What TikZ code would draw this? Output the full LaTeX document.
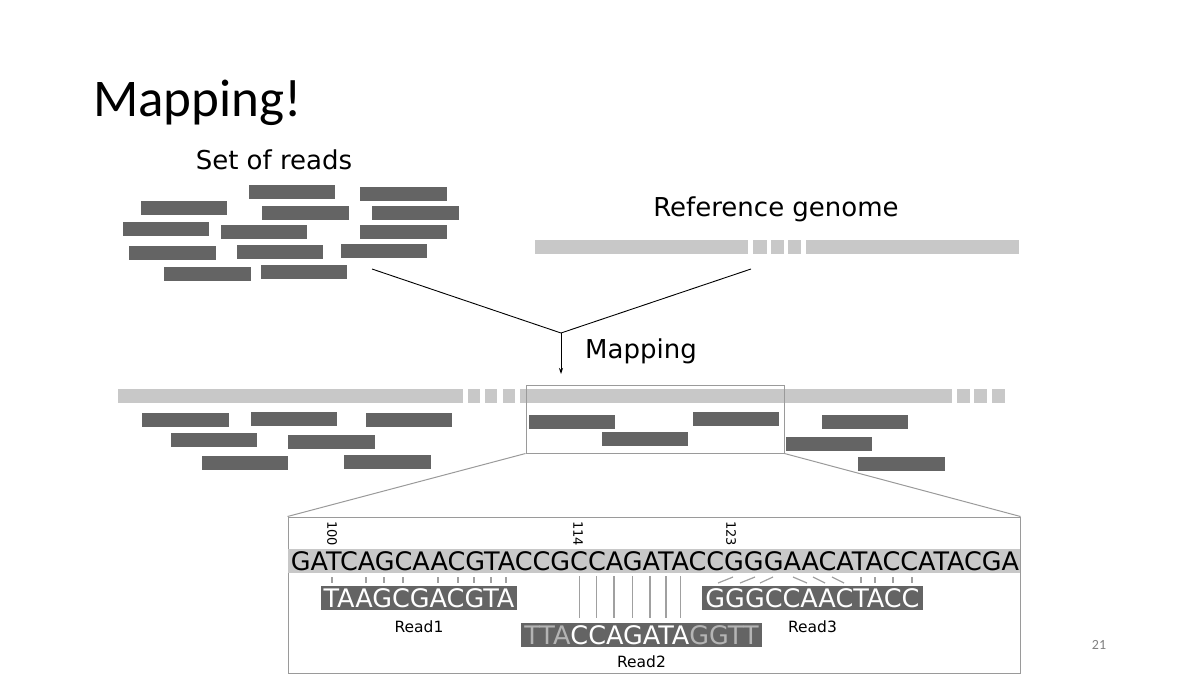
\documentclass[tikz,border=0pt]{standalone}
\usepackage{fontspec}
\setmainfont{DejaVu Sans}
\newfontfamily\titlefont{Carlito}
\usetikzlibrary{arrows.meta,positioning}
\definecolor{readgray}{HTML}{646464}
\definecolor{refgray}{HTML}{C8C8C8}
\definecolor{framegray}{HTML}{9A9A9A}
\definecolor{tickgray}{HTML}{A0A0A0}
\definecolor{softgray}{HTML}{B4B4B4}

\begin{document}
\begin{tikzpicture}[
x=1pt, y=-1pt,
node distance=3pt and 4pt,
read/.style={fill=readgray, minimum width=86.5pt, minimum height=14pt, inner sep=0pt},
gen/.style={fill=refgray, minimum height=14pt, inner sep=0pt},
label/.style={font=\fontsize{26}{30}\selectfont, inner sep=0pt},
seqtext/.style={font=\fontsize{25.5}{30}\selectfont, text height=18.5pt, text depth=0pt, inner ysep=2.8pt, inner xsep=0pt},
readseq/.style={seqtext, fill=readgray, text=white, inner xsep=3pt},
readname/.style={font=\fontsize{15.5}{18}\selectfont, inner sep=0pt},
posnum/.style={font=\fontsize{13}{15}\selectfont, rotate=-90, inner sep=0pt},
frame/.style={draw=framegray, line width=1pt},
tick/.style={draw=tickgray, line width=1.2pt},
funnel/.style={draw=black, line width=0.9pt}
]
\useasboundingbox (0,0) rectangle (1200,675);

% title and page number
\node[anchor=base west, inner sep=0pt, font=\titlefont\fontsize{53}{60}\selectfont] (title) at (93,116) {Mapping!};
\node[font=\titlefont\fontsize{14}{16}\selectfont, text=gray, inner sep=0pt] (page) at (1099,645) {21};

% set of reads
\node[label, anchor=base] (readslabel) at (274,169) {Set of reads};
\node[read] (t1) at (292,192) {};
\node[read] (t2) at (403.5,194) {};
\node[read] (t3) at (184,208) {};
\node[read] (t4) at (305.5,213) {};
\node[read] (t5) at (415.5,213) {};
\node[read] (t6) at (166,229) {};
\node[read] (t7) at (264,232) {};
\node[read] (t8) at (403.5,232) {};
\node[read] (t9) at (172.5,253) {};
\node[read] (t10) at (280,252) {};
\node[read] (t11) at (384,251) {};
\node[read] (t12) at (207.5,274) {};
\node[read] (t13) at (304,272) {};

% reference genome
\node[label, anchor=base] (genlabel) at (776,216) {Reference genome};
\node[gen, minimum width=213pt] (g1) at (641.5,247) {};
\node[gen, minimum width=14pt] (g2) at (760,247) {};
\node[gen, minimum width=13pt] (g3) at (777.5,247) {};
\node[gen, minimum width=13pt] (g4) at (794.5,247) {};
\node[gen, minimum width=213pt] (g5) at (912.5,247) {};

% mapping step
\coordinate (readsend) at (372,269);
\coordinate (genend) at (751,269);
\coordinate (join) at (561,333);
\coordinate (mapped) at (561,374);
\draw[funnel] (readsend) -- (join) -- (genend);
\draw[funnel, -{Stealth[length=6pt, width=4pt]}] (join) -- (mapped);
\node[label, anchor=base west] (maplabel) at (585,358) {Mapping};

% mapped genome
\node[gen, minimum width=345pt] (m1) at (290.5,396) {};
\node[gen, minimum width=12pt] (m2) at (474,396) {};
\node[gen, minimum width=12pt] (m3) at (491,396) {};
\node[gen, minimum width=12pt] (m4) at (509,396) {};
\node[gen, minimum width=432pt] (m5) at (736,396) {};
\node[gen, minimum width=13pt] (m6) at (963.5,396) {};
\node[gen, minimum width=13pt] (m7) at (980.5,396) {};
\node[gen, minimum width=13pt] (m8) at (998.5,396) {};

% mapped reads
\node[read] (b1) at (185.5,420) {};
\node[read] (b2) at (294,419) {};
\node[read] (b3) at (409,420) {};
\node[read] (b4) at (214,440) {};
\node[read] (b5) at (331.5,442) {};
\node[read] (b6) at (245,463) {};
\node[read] (b7) at (387.5,462) {};
\node[read] (b8) at (572,422) {};
\node[read] (b9) at (645,439) {};
\node[read] (b10) at (736,419) {};
\node[read] (b11) at (865,422) {};
\node[read] (b12) at (829,444) {};
\node[read] (b13) at (901.5,464) {};

% zoom window and detail
\node[frame, minimum width=258pt, minimum height=68pt, inner sep=0pt] (zoomwin) at (655,419) {};
\node[frame, minimum width=732pt, minimum height=156pt, inner sep=0pt] (detail) at (654,595) {};
\draw[frame] (zoomwin.south west) -- (detail.north west);
\draw[frame] (zoomwin.south east) -- (detail.north east);

% reference sequence
\fill[refgray] (288,549) rectangle (1020,573);
\node[seqtext] (refseq) at (655,561) {GATCAGCAACGTACCGCCAGATACCGGGAACATACCATACGA};
\node[posnum, anchor=west] (p100) at (332,521) {100};
\node[posnum, anchor=west] (p114) at (578,521) {114};
\node[posnum, anchor=west] (p123) at (731,521) {123};

% reads and matches
\node[readseq] (read1) at (419,598) {TAAGCGACGTA};
\node[readseq] (read2) at (641.5,635) {\textcolor{softgray}{TTA}CCAGATA\textcolor{softgray}{GGTT}};
\node[readseq] (read3) at (812.5,598) {GGGCCAACTACC};
\node[readname, below=10pt of read1] (name1) {Read1};
\node[readname, below=8pt of read2] (name2) {Read2};
\node[readname, below=10pt of read3] (name3) {Read3};

\foreach \x in {332,366,384,403,438,458,474,491,506,861,875,893,912}
  \draw[tick] (\x,577) -- (\x,583);
\foreach \x in {579.3,596.7,614,632.7,650,666,680.7}
  \draw[tick] (\x,576) -- (\x,618);
\foreach \a/\b in {718/733,740/755,760/773}
  \draw[tick] (\a,583) -- (\b,577);
\foreach \a/\b in {793/807,813/825,832/844}
  \draw[tick] (\a,577) -- (\b,583);
\end{tikzpicture}
\end{document}
